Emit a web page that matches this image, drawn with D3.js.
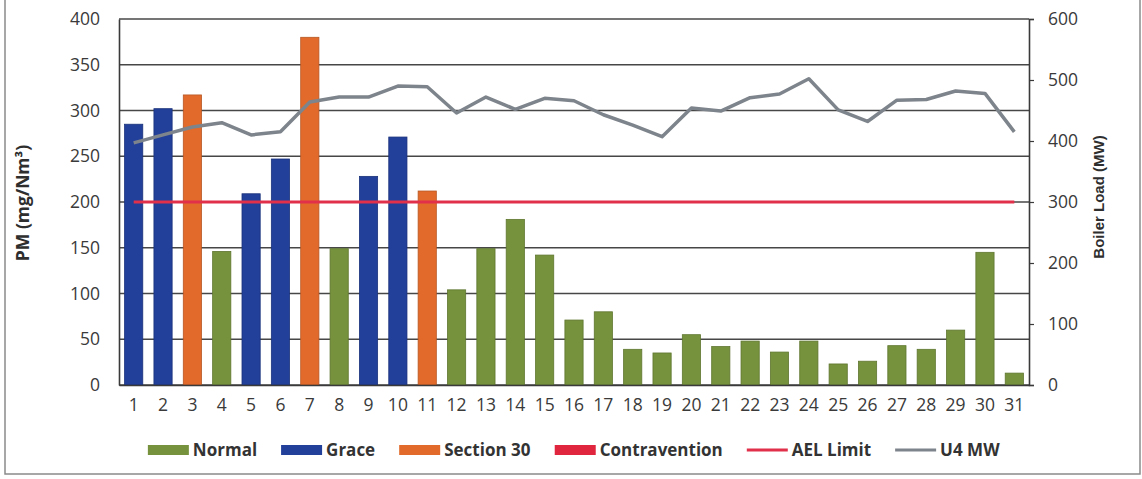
<!DOCTYPE html>
<html>
<head>
<meta charset="utf-8">
<script src="https://cdn.jsdelivr.net/npm/d3@7"></script>
<style>
  body { margin: 0; background: #fff; }
  svg { display: block; }
</style>
</head>
<body>
<svg id="chart" width="1142" height="479"></svg>
<script>
// daily readings, day 1..31
const days = d3.range(1, 32);
const pm = [285, 302, 317, 146, 209, 247, 380, 149, 228, 271, 212, 104, 149, 181, 142,
            71, 80, 39, 35, 55, 42, 48, 36, 48, 23, 26, 43, 39, 60, 145, 13];
const status = ['Grace', 'Grace', 'Section 30', 'Normal', 'Grace', 'Grace', 'Section 30', 'Normal',
                'Grace', 'Grace', 'Section 30', 'Normal', 'Normal', 'Normal', 'Normal', 'Normal',
                'Normal', 'Normal', 'Normal', 'Normal', 'Normal', 'Normal', 'Normal', 'Normal',
                'Normal', 'Normal', 'Normal', 'Normal', 'Normal', 'Normal', 'Normal'];
const u4MW = [397, 410, 423, 430, 410, 415, 464, 472, 472, 490, 489, 446, 472, 452, 470, 466,
              443, 426, 407, 454, 449, 471, 477, 502, 451, 432, 467, 468, 482, 478, 415];
const aelLimit = 200;
const pmTicks = [0, 50, 100, 150, 200, 250, 300, 350, 400];
const mwTicks = [0, 100, 200, 300, 400, 500, 600];
const legendItems = [
  {name: 'Normal', kind: 'bar'},
  {name: 'Grace', kind: 'bar'},
  {name: 'Section 30', kind: 'bar'},
  {name: 'Contravention', kind: 'bar'},
  {name: 'AEL Limit', kind: 'line'},
  {name: 'U4 MW', kind: 'line'}
];

const colors = {
  'Normal': '#76923c',
  'Grace': '#223f99',
  'Section 30': '#e26b2b',
  'Contravention': '#e0263f',
  'AEL Limit': '#e0304a',
  'U4 MW': '#7e848b'
};

const margin = {top: 19, right: 113, bottom: 94, left: 119},
      width = 1142 - margin.left - margin.right,
      height = 479 - margin.top - margin.bottom;

const tickFont = "'Open Sans', sans-serif";

const svg = d3.select('#chart');

// outer frame
svg.append('rect')
  .attr('x', 5)
  .attr('y', -5)
  .attr('width', 1135)
  .attr('height', 479)
  .attr('fill', 'none')
  .attr('stroke', '#8a8a8a')
  .attr('stroke-width', 1.5);

const g = svg.append('g')
  .attr('transform', `translate(${margin.left}, ${margin.top})`);

const x = d3.scaleBand()
  .domain(days)
  .range([0, width])
  .paddingInner(0.38)
  .paddingOuter(0.19);

const y = d3.scaleLinear().domain([0, 400]).range([height, 0]);
const y2 = d3.scaleLinear().domain([0, 600]).range([height, 0]);

// gridlines
g.selectAll('line.grid')
  .data(pmTicks)
  .enter()
  .append('line')
    .attr('class', 'grid')
    .attr('x1', 0)
    .attr('x2', width)
    .attr('y1', d => y(d))
    .attr('y2', d => y(d))
    .attr('stroke', '#474747')
    .attr('stroke-width', 1.5);

// bars
g.selectAll('rect.bar')
  .data(days)
  .enter()
  .append('rect')
    .attr('class', 'bar')
    .attr('x', d => x(d))
    .attr('y', (d, i) => y(pm[i]))
    .attr('width', x.bandwidth())
    .attr('height', (d, i) => height - y(pm[i]))
    .attr('fill', (d, i) => colors[status[i]])
    .attr('stroke', (d, i) => d3.color(colors[status[i]]).darker(0.6))
    .attr('stroke-width', 0.8);

// AEL limit
g.append('line')
  .attr('x1', x(1) + x.bandwidth() / 2)
  .attr('x2', x(31) + x.bandwidth() / 2)
  .attr('y1', y(aelLimit))
  .attr('y2', y(aelLimit))
  .attr('stroke', colors['AEL Limit'])
  .attr('stroke-width', 3.2);

// boiler load line
const line = d3.line()
  .x((d, i) => x(days[i]) + x.bandwidth() / 2)
  .y(d => y2(d));

g.append('path')
  .datum(u4MW)
  .attr('d', line)
  .attr('fill', 'none')
  .attr('stroke', colors['U4 MW'])
  .attr('stroke-width', 3.5)
  .attr('stroke-linejoin', 'round');

// axes
const axisLeft = g.append('g')
  .call(d3.axisLeft(y).tickValues(pmTicks).tickSize(0).tickPadding(19));

const axisRight = g.append('g')
  .attr('transform', `translate(${width}, 0)`)
  .call(d3.axisRight(y2).tickValues(mwTicks).tickSize(5).tickPadding(14));

const axisBottom = g.append('g')
  .attr('transform', `translate(0, ${height})`)
  .call(d3.axisBottom(x).tickSize(0).tickPadding(14));

[axisLeft, axisRight, axisBottom].forEach(a => {
  a.select('.domain').attr('stroke', '#3a3a3a').attr('stroke-width', 1.6);
  a.selectAll('.tick line').attr('stroke', '#3a3a3a').attr('stroke-width', 1.2);
  a.selectAll('text')
    .attr('fill', '#3a3a3a')
    .style('font-family', tickFont)
    .style('font-size', '17.5px');
});

// axis titles
svg.append('text')
  .text('PM (mg/Nm³)')
  .attr('transform', 'translate(29, 203) rotate(-90)')
  .attr('text-anchor', 'middle')
  .style('font-family', tickFont)
  .style('font-weight', 700)
  .style('font-size', '17.5px')
  .attr('fill', '#2e2e2e');

svg.append('text')
  .text('Boiler Load (MW)')
  .attr('transform', 'translate(1104, 197) rotate(-90)')
  .attr('text-anchor', 'middle')
  .style('font-family', "'Liberation Sans', Arial, sans-serif")
  .style('font-weight', 700)
  .style('font-size', '15px')
  .attr('fill', '#2e2e2e');

// legend, laid out left to right then centred under the plot
const legend = svg.append('g');
const items = legend.selectAll('g')
  .data(legendItems)
  .enter()
  .append('g');

items.each(function(d) {
  const it = d3.select(this);
  if (d.kind === 'bar') {
    it.append('rect')
      .attr('x', 0).attr('y', -5)
      .attr('width', 41).attr('height', 10)
      .attr('fill', colors[d.name]);
  } else {
    it.append('line')
      .attr('x1', 0).attr('x2', 41)
      .attr('y1', 0).attr('y2', 0)
      .attr('stroke', colors[d.name])
      .attr('stroke-width', 3.2);
  }
  it.append('text')
    .text(d.name)
    .attr('x', 45)
    .attr('y', 6)
    .style('font-family', tickFont)
    .style('font-weight', 700)
    .style('font-size', '17px')
    .attr('fill', '#333');
});

let cursor = 0;
items.attr('transform', function() {
  const t = `translate(${cursor}, 0)`;
  cursor += this.getBBox().width + 24;
  return t;
});
const legendWidth = cursor - 24;
legend.attr('transform', `translate(${margin.left + width / 2 - legendWidth / 2}, 450)`);
</script>
</body>
</html>
